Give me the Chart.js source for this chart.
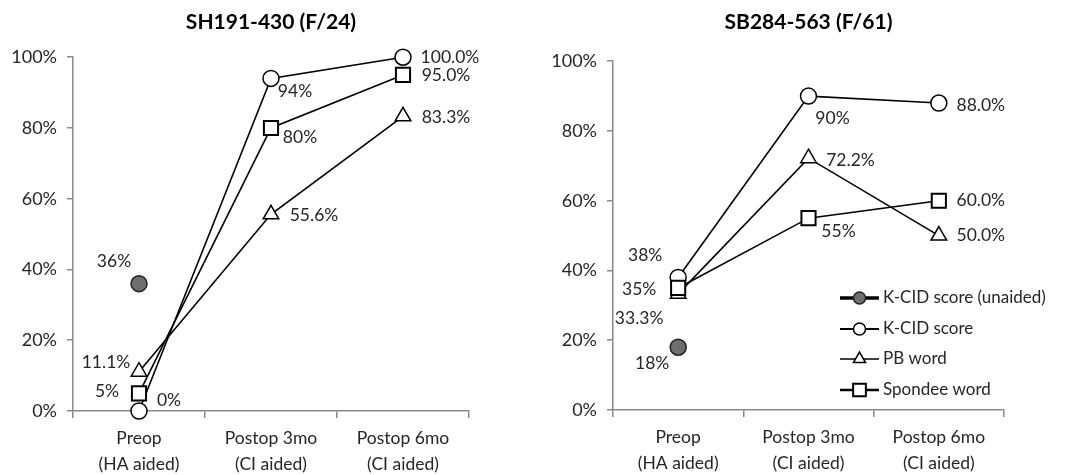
<!DOCTYPE html>
<html>
<head>
<meta charset="UTF-8">
<title>K-CID / PB word / Spondee word</title>
<script src="https://cdn.jsdelivr.net/npm/chart.js"></script>
<style>
  body { margin: 0; background: #fff; }
  .row { display: flex; width: 1081px; height: 475px; }
  .box { position: relative; height: 475px; }
</style>
</head>
<body>
<div class="row">
  <div class="box" style="width:540px"><canvas id="left"></canvas></div>
  <div class="box" style="width:541px"><canvas id="right"></canvas></div>
</div>
<script>
// categories, series names, tick values
const stages = [['Preop', '(HA aided)'], ['Postop 3mo', '(CI aided)'], ['Postop 6mo', '(CI aided)']];
const seriesNames = ['K-CID score (unaided)', 'K-CID score', 'PB word', 'Spondee word'];
const yTicks = [0, 20, 40, 60, 80, 100];

// SH191-430 (F/24)
const shUnaided = [36, null, null];
const shKcid = [0, 94, 100];
const shPb = [11.1, 55.6, 83.3];
const shSpondee = [5, 80, 95];
const shUnaidedText = ['36%', '', ''];
const shKcidText = ['0%', '94%', '100.0%'];
const shPbText = ['11.1%', '55.6%', '83.3%'];
const shSpondeeText = ['5%', '80%', '95.0%'];

// SB284-563 (F/61)
const sbUnaided = [18, null, null];
const sbKcid = [38, 90, 88];
const sbPb = [33.3, 72.2, 50];
const sbSpondee = [35, 55, 60];
const sbUnaidedText = ['18%', '', ''];
const sbKcidText = ['38%', '90%', '88.0%'];
const sbPbText = ['33.3%', '72.2%', '50.0%'];
const sbSpondeeText = ['35%', '55%', '60.0%'];

const FONT = 'Lato';
const TXT = '#262626';
const AXIS = '#8a8a8a';

// marker look per series
const markers = [
  { style: 'circle', r: 8, fill: '#6e6e6e', stroke: '#222', bw: 1.5, legendR: 6, legendLine: 3.5 },
  { style: 'circle', r: 8, fill: '#fff', stroke: '#000', bw: 1.5, legendR: 6, legendLine: 2 },
  { style: 'triangle', r: 9, fill: '#fff', stroke: '#000', bw: 1.5, legendR: 7, legendLine: 1.5 },
  { style: 'rect', r: 10, fill: '#fff', stroke: '#000', bw: 2, legendR: 9, legendLine: 2.5 }
];

// label offsets from each point (dx, dy)
const shLabelOffsets = [
  [[-25, -22]],
  [[30, -11], [24, 13], [47, 0]],
  [[-33, -9], [43, 1], [43, 1]],
  [[-32, -2], [29, 9], [43, 0]]
];
const sbLabelOffsets = [
  [[-26, 16]],
  [[-33, -22], [24, 22], [42, 2]],
  [[-39, 25], [42, 2], [42, 0]],
  [[-39, 1], [30, 13], [42, 0]]
];

function drawMarker(ctx, m, x, y, r) {
  ctx.save();
  ctx.fillStyle = m.fill;
  ctx.strokeStyle = m.stroke;
  ctx.lineWidth = m.bw;
  ctx.beginPath();
  if (m.style === 'circle') {
    ctx.arc(x, y, r, 0, Math.PI * 2);
  } else if (m.style === 'triangle') {
    ctx.moveTo(x, y - r);
    ctx.lineTo(x + r * 0.866, y + r * 0.5);
    ctx.lineTo(x - r * 0.866, y + r * 0.5);
    ctx.closePath();
  } else {
    const s = r * Math.SQRT1_2;
    ctx.rect(x - s, y - s, 2 * s, 2 * s);
  }
  ctx.fill();
  ctx.stroke();
  ctx.restore();
}

const pointLabels = {
  id: 'pointLabels',
  afterDatasetsDraw(chart, args, opts) {
    const ctx = chart.ctx;
    ctx.save();
    ctx.font = '17.5px ' + FONT;
    ctx.fillStyle = TXT;
    ctx.textAlign = 'center';
    ctx.textBaseline = 'middle';
    chart.data.datasets.forEach((ds, di) => {
      const meta = chart.getDatasetMeta(di);
      meta.data.forEach((pt, i) => {
        const txt = opts.texts[di][i];
        if (!txt || ds.data[i] == null) return;
        const off = opts.offsets[di][i];
        ctx.fillText(txt, pt.x + off[0], pt.y + off[1]);
      });
    });
    ctx.restore();
  }
};

const lineLegend = {
  id: 'lineLegend',
  afterDraw(chart, args, opts) {
    if (!opts.show) return;
    const ctx = chart.ctx;
    ctx.save();
    ctx.font = '17px ' + FONT;
    ctx.textAlign = 'left';
    ctx.textBaseline = 'middle';
    seriesNames.forEach((name, i) => {
      const y = opts.rows[i];
      const m = markers[i];
      ctx.strokeStyle = '#000';
      ctx.lineWidth = m.legendLine;
      ctx.beginPath();
      ctx.moveTo(opts.x0, y);
      ctx.lineTo(opts.x1, y);
      ctx.stroke();
      drawMarker(ctx, m, (opts.x0 + opts.x1) / 2, y, m.legendR);
      ctx.fillStyle = TXT;
      ctx.fillText(name, opts.x1 + 4, y);
    });
    ctx.restore();
  }
};

function makeDatasets(series) {
  return series.map((data, i) => {
    const m = markers[i];
    return {
      label: seriesNames[i],
      data: data,
      borderColor: '#000',
      borderWidth: 1.6,
      pointStyle: m.style,
      pointRadius: m.r,
      pointBackgroundColor: m.fill,
      pointBorderColor: m.stroke,
      pointBorderWidth: m.bw,
      showLine: i > 0,
      clip: false,
      tension: 0,
      order: 4 - i
    };
  });
}

function makeChart(id, title, series, texts, offsets, lay) {
  new Chart(document.getElementById(id), {
    type: 'line',
    data: { labels: stages, datasets: makeDatasets(series) },
    options: {
      responsive: true,
      maintainAspectRatio: false,
      animation: false,
      layout: { padding: { left: 0, right: lay.right, top: 0, bottom: 0 } },
      scales: {
        x: {
          offset: true,
          grid: { offset: true, drawOnChartArea: false, color: AXIS, lineWidth: 1.5, tickLength: 7 },
          border: { color: AXIS, width: 1.5 },
          ticks: { color: TXT, padding: 8, font: { family: FONT, size: 17.5, lineHeight: 1.45 }, maxRotation: 0 },
          afterFit: s => { s.height = lay.xHeight; }
        },
        y: {
          min: 0,
          max: 100,
          afterBuildTicks: s => { s.ticks = yTicks.map(v => ({ value: v })); },
          grid: { drawOnChartArea: false, color: AXIS, lineWidth: 1.5, tickLength: 6 },
          border: { color: AXIS, width: 1.5 },
          ticks: { color: TXT, padding: 10, font: { family: FONT, size: 18 }, callback: v => v + '%' },
          afterFit: s => { s.width = 73; }
        }
      },
      plugins: {
        legend: { display: false },
        tooltip: { enabled: false },
        title: {
          display: true,
          text: title,
          fullSize: false,
          color: '#000',
          font: { family: FONT, size: 21, weight: 'bold' },
          padding: { top: 10, bottom: lay.titleBottom }
        },
        pointLabels: { texts: texts, offsets: offsets },
        lineLegend: lay.legend || { show: false }
      }
    },
    plugins: [pointLabels, lineLegend]
  });
}

makeChart('left', 'SH191-430 (F/24)',
  [shUnaided, shKcid, shPb, shSpondee],
  [shUnaidedText, shKcidText, shPbText, shSpondeeText],
  shLabelOffsets,
  { right: 71, xHeight: 64, titleBottom: 22 });

makeChart('right', 'SB284-563 (F/61)',
  [sbUnaided, sbKcid, sbPb, sbSpondee],
  [sbUnaidedText, sbKcidText, sbPbText, sbSpondeeText],
  sbLabelOffsets,
  { right: 77, xHeight: 65, titleBottom: 26,
    legend: { show: true, x0: 300, x1: 339, rows: [298, 329, 359, 390] } });
</script>
</body>
</html>
